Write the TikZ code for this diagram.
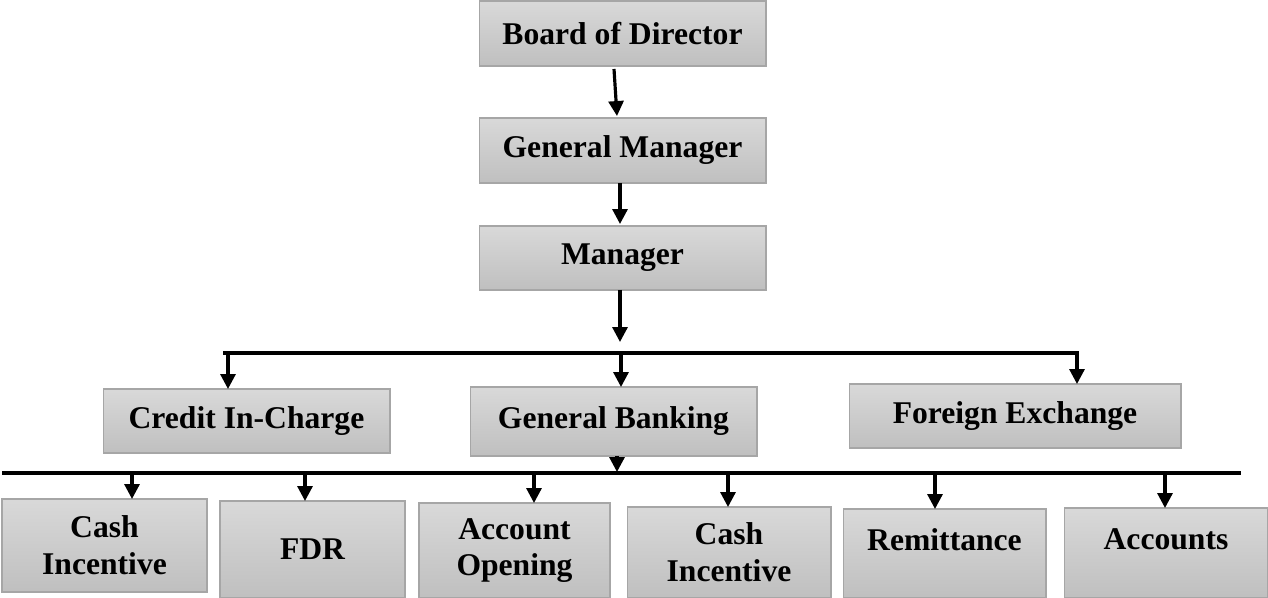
\documentclass[tikz,border=0pt]{standalone}
\usepackage{fontspec}
\setmainfont{Liberation Serif}
\usepackage{tikz}
\usetikzlibrary{arrows.meta,positioning,calc}

\begin{document}
\begin{tikzpicture}[x=0.02cm,y=-0.02cm,
  box/.style={draw=gray!70,line width=0.6pt,top color=gray!30,bottom color=gray!50,
    inner sep=0pt,outer sep=0pt,align=center,font=\fontsize{18}{21}\selectfont\bfseries},
  arr/.style={-{Triangle[length=8.5pt,width=8.5pt]},line width=1.8pt},
  bus/.style={line width=2.2pt}]
\useasboundingbox (0,0) rectangle (1268,598);
% top of the chart
\node[box,minimum width=5.74cm,minimum height=1.3cm] (bod) at (622.5,33.5) {Board of Director};
\node[box,minimum width=5.74cm,minimum height=1.3cm] (gm) at (622.5,150.5) {General Manager};
\node[box,minimum width=5.74cm,minimum height=1.28cm] (mgr) at (622.5,258) {Manager};
\draw[arr] ([xshift=-0.17cm,yshift=-0.06cm]bod.south) -- ([xshift=-0.11cm,yshift=0.04cm]gm.north);
\draw[arr] ([xshift=-0.05cm]gm.south) -- ([xshift=-0.05cm,yshift=0.04cm]mgr.north);
% departments
\node[box,minimum width=5.74cm,minimum height=1.28cm] (credit) at (246.5,421) {Credit In-Charge};
\node[box,minimum width=5.74cm,minimum height=1.38cm] (gb) at (613.5,421.5) {General Banking};
\node[box,minimum width=6.64cm,minimum height=1.28cm] (fx) at (1015,416) {Foreign Exchange};
\coordinate (m1) at (620,342);
\draw[arr] (mgr.south -| m1) -- (m1);
\coordinate (b1l) at (223,353);
\coordinate (b1r) at (1079,353);
\draw[bus] (b1l) -- (b1r);
\foreach \x/\n in {228/credit,621/gb,1077/fx}{
  \draw[arr] (\x,353) -- (\n.north -| \x,0);}
% desks
\node[box,minimum width=4.1cm,minimum height=1.86cm] (cashA) at (104.5,545.5) {Cash\\Incentive};
\node[box,minimum width=3.7cm,minimum height=1.94cm] (fdr) at (312.5,549.5) {FDR};
\node[box,minimum width=3.82cm,minimum height=1.9cm] (acct) at (514.5,550.5) {Account\\Opening};
\node[box,minimum width=4.08cm,minimum height=1.82cm] (cashB) at (729,552.5) {Cash\\Incentive};
\node[box,minimum width=4.06cm,minimum height=1.78cm,text depth=16pt] (remit) at (944.5,553.5) {Remittance};
\node[box,minimum width=4.08cm,minimum height=1.8cm,text depth=16pt] (accts) at (1166,553) {Accounts};
\coordinate (b2l) at (2,473);
\coordinate (b2r) at (1241,473);
\draw[bus] (b2l) -- (b2r);
\coordinate (g2) at (617,472);
\draw[arr] (gb.south -| g2) -- (g2);
\foreach \x/\n in {132/cashA,305/fdr,534/acct,728/cashB,935/remit,1165/accts}{
  \draw[arr] (\x,473) -- (\n.north -| \x,0);}
\end{tikzpicture}
\end{document}
